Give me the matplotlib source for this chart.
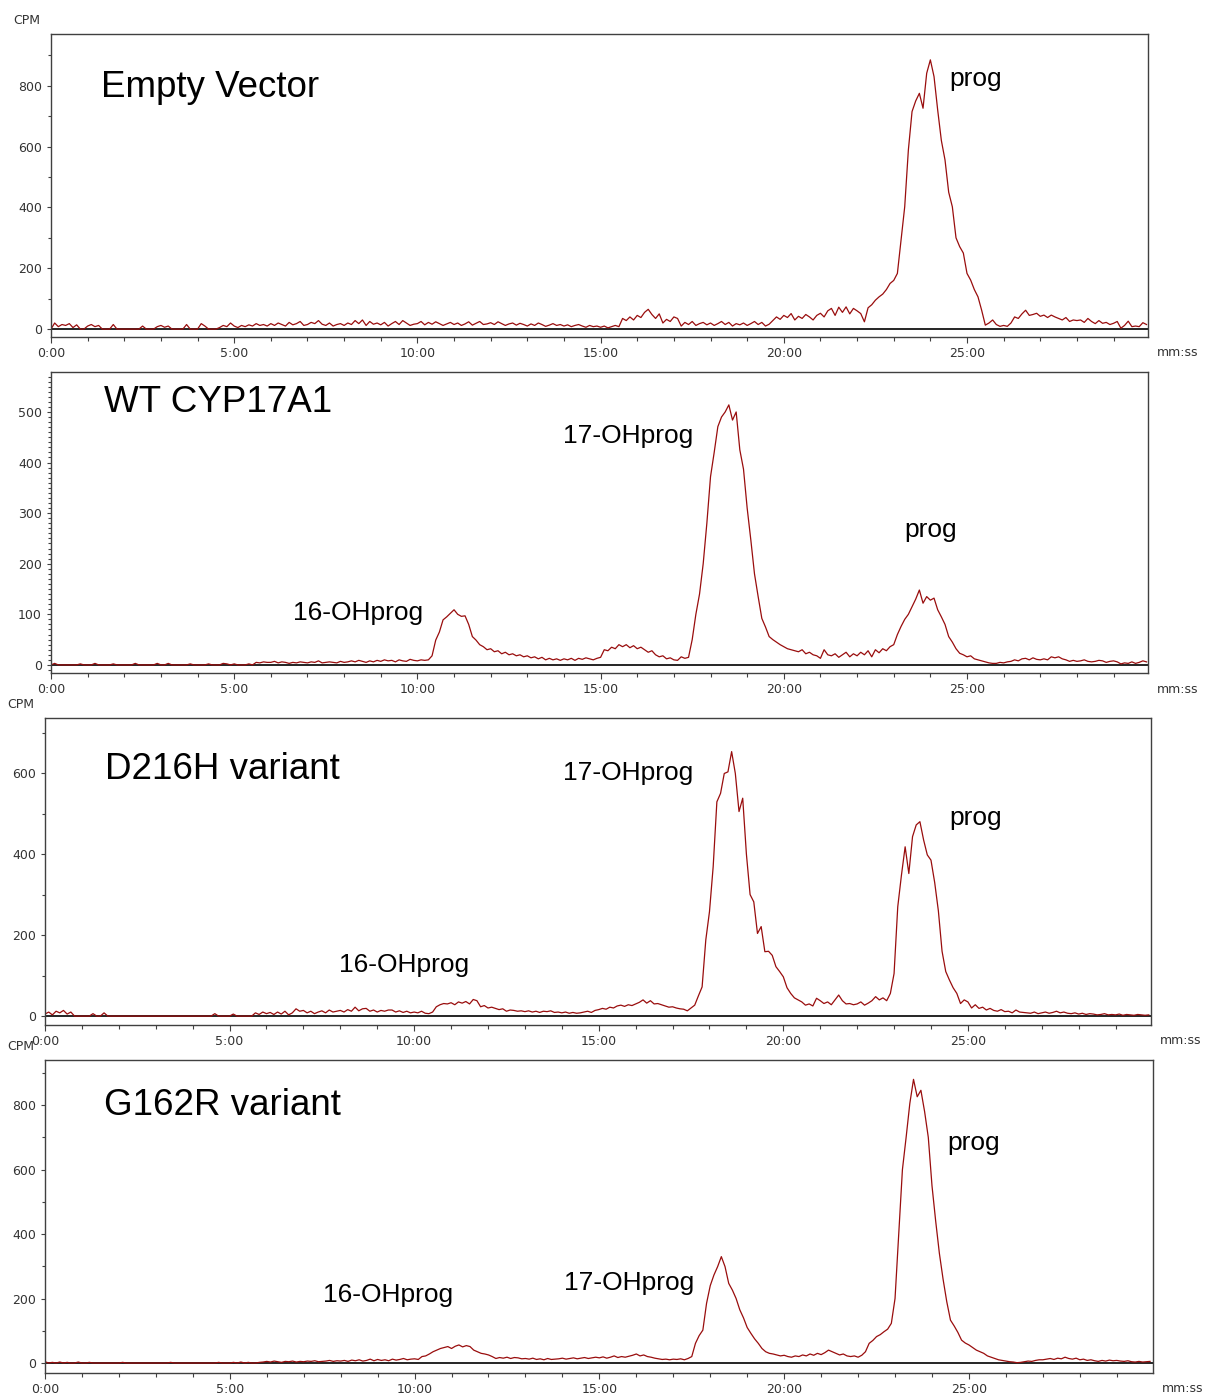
import numpy as np
import matplotlib
matplotlib.use('Agg')
import matplotlib.pyplot as plt
from matplotlib.ticker import MultipleLocator, FuncFormatter

# ========== DANE ==========

# retention time, minutes (one reading every 6 s)
time_min = np.arange(300) / 10

ev_cpm = [
    0, 20, 8, 15, 12, 18, 5, 14, 0, 0,
    10, 15, 8, 12, 0, 0, 0, 15, 0, 0,
    0, 0, 0, 0, 0, 10, 0, 0, 0, 8,
    12, 6, 10, 0, 0, 0, 0, 15, 0, 0,
    0, 18, 10, 0, 0, 0, 5, 12, 8, 20,
    10, 5, 12, 8, 14, 10, 18, 12, 15, 10,
    18, 12, 20, 15, 10, 22, 14, 18, 25, 12,
    15, 22, 18, 28, 16, 12, 20, 10, 15, 18,
    12, 20, 15, 28, 18, 30, 12, 25, 16, 20,
    14, 22, 10, 18, 25, 15, 28, 20, 12, 16,
    18, 25, 14, 22, 16, 24, 18, 12, 17, 22,
    15, 20, 12, 17, 24, 13, 19, 25, 15, 17,
    21, 15, 24, 18, 12, 17, 20, 13, 19, 15,
    10, 17, 12, 20, 15, 9, 13, 18, 12, 15,
    10, 14, 8, 12, 15, 10, 6, 12, 8, 10,
    6, 10, 4, 8, 12, 8, 35, 28, 40, 30,
    45, 38, 55, 65, 48, 35, 50, 20, 32, 25,
    40, 35, 10, 22, 15, 25, 12, 18, 22, 14,
    20, 12, 18, 25, 15, 22, 10, 18, 14, 20,
    12, 18, 25, 15, 22, 10, 16, 28, 40, 32,
    45, 38, 51, 30, 42, 35, 48, 40, 30, 45,
    52, 40, 60, 68, 45, 72, 55, 73, 50, 68,
    60, 51, 24, 70, 80, 95, 106, 115, 130, 150,
    160, 183, 293, 402, 589, 715, 750, 775, 726, 841,
    885, 830, 720, 620, 556, 450, 402, 300, 271, 250,
    183, 161, 130, 106, 62, 13, 20, 30, 15, 9,
    12, 9, 20, 40, 35, 50, 62, 45, 48, 52,
    42, 46, 38, 46, 40, 35, 30, 38, 25, 30,
    28, 30, 22, 35, 25, 18, 28, 19, 22, 15,
    19, 25, 3, 12, 26, 8, 10, 8, 21, 15,
]

wt_cpm = [
    0, 3, 0, 0, 0, 0, 0, 0, 2, 0,
    0, 0, 3, 0, 0, 0, 0, 2, 0, 0,
    0, 0, 0, 3, 0, 0, 0, 0, 0, 3,
    0, 0, 3, 0, 0, 0, 0, 0, 2, 0,
    0, 0, 0, 2, 0, 0, 0, 3, 2, 0,
    2, 0, 0, 0, 2, 0, 5, 4, 6, 5,
    5, 7, 4, 6, 5, 3, 5, 4, 6, 5,
    4, 6, 5, 8, 4, 5, 6, 5, 4, 7,
    5, 6, 8, 6, 9, 7, 5, 8, 6, 9,
    7, 10, 8, 9, 6, 10, 8, 7, 11, 9,
    8, 10, 9, 10, 18, 49, 65, 89, 95, 102,
    109, 100, 96, 97, 80, 56, 49, 40, 36, 30,
    32, 26, 28, 22, 25, 20, 22, 18, 20, 16,
    18, 14, 16, 12, 15, 10, 13, 10, 12, 9,
    12, 10, 13, 9, 13, 11, 14, 12, 10, 13,
    15, 30, 28, 35, 32, 40, 36, 40, 34, 38,
    32, 35, 30, 25, 28, 20, 16, 18, 12, 14,
    10, 9, 16, 13, 15, 50, 100, 140, 200, 280,
    372, 420, 471, 490, 500, 514, 484, 500, 425, 387,
    310, 247, 180, 135, 92, 75, 56, 50, 45, 40,
    36, 32, 30, 28, 26, 30, 22, 25, 20, 18,
    13, 30, 20, 18, 22, 15, 20, 25, 16, 22,
    18, 25, 20, 28, 16, 30, 24, 32, 28, 36,
    40, 60, 76, 90, 100, 115, 130, 148, 122, 135,
    128, 132, 109, 95, 80, 56, 45, 32, 23, 20,
    16, 18, 12, 10, 8, 6, 4, 3, 3, 5,
    4, 6, 7, 10, 8, 12, 13, 10, 14, 11,
    10, 12, 10, 16, 14, 16, 12, 10, 7, 9,
    7, 8, 10, 7, 6, 7, 9, 8, 5, 7,
    8, 6, 2, 4, 3, 6, 3, 5, 8, 6,
]

d216h_cpm = [
    5, 10, 3, 12, 8, 14, 5, 10, 0, 0,
    0, 0, 0, 6, 0, 0, 8, 0, 0, 0,
    0, 0, 0, 0, 0, 0, 0, 0, 0, 0,
    0, 0, 0, 0, 0, 0, 0, 0, 0, 0,
    0, 0, 0, 0, 0, 0, 6, 0, 0, 0,
    0, 5, 0, 0, 0, 0, 0, 8, 4, 10,
    6, 9, 4, 10, 5, 12, 3, 8, 18, 12,
    14, 8, 12, 6, 10, 13, 8, 15, 10, 12,
    14, 10, 16, 12, 22, 13, 18, 19, 12, 15,
    10, 14, 12, 15, 15, 10, 13, 9, 12, 8,
    10, 8, 12, 7, 6, 10, 23, 28, 31, 30,
    33, 28, 35, 32, 36, 30, 41, 38, 23, 26,
    20, 22, 19, 16, 18, 12, 15, 14, 12, 13,
    11, 13, 10, 12, 9, 12, 11, 13, 9, 10,
    8, 10, 7, 9, 7, 8, 10, 12, 9, 14,
    16, 19, 17, 22, 20, 25, 27, 24, 28, 26,
    30, 34, 40, 32, 38, 30, 31, 28, 25, 22,
    23, 20, 18, 17, 13, 20, 27, 50, 72, 188,
    258, 369, 529, 550, 599, 603, 653, 599, 505, 538,
    400, 300, 282, 204, 221, 159, 160, 150, 122, 110,
    97, 70, 56, 45, 40, 35, 27, 30, 25, 44,
    38, 31, 35, 28, 40, 52, 38, 30, 31, 28,
    30, 35, 27, 32, 38, 48, 40, 45, 38, 56,
    105, 270, 348, 418, 352, 443, 472, 480, 435, 398,
    385, 330, 260, 160, 110, 89, 70, 56, 31, 40,
    35, 20, 28, 19, 22, 15, 19, 14, 12, 16,
    11, 12, 8, 15, 10, 9, 8, 7, 10, 6,
    8, 10, 7, 9, 12, 8, 10, 7, 6, 8,
    5, 7, 4, 6, 5, 3, 4, 6, 3, 4,
    3, 5, 2, 4, 3, 2, 4, 3, 2, 3,
]

g162r_cpm = [
    4, 0, 2, 0, 3, 0, 2, 0, 0, 3,
    0, 0, 2, 0, 0, 0, 0, 0, 0, 0,
    0, 2, 0, 0, 0, 0, 0, 0, 0, 0,
    0, 0, 0, 0, 2, 0, 0, 0, 0, 0,
    0, 0, 0, 0, 0, 0, 0, 2, 0, 0,
    0, 2, 0, 3, 0, 2, 0, 0, 2, 3,
    5, 3, 6, 4, 2, 5, 4, 6, 3, 5,
    4, 6, 5, 7, 4, 5, 6, 8, 5, 7,
    6, 8, 5, 9, 7, 10, 6, 8, 12, 7,
    11, 8, 10, 7, 12, 9, 11, 14, 10, 12,
    13, 11, 20, 22, 28, 35, 40, 45, 48, 51,
    45, 52, 56, 50, 54, 51, 40, 35, 30, 28,
    25, 20, 14, 17, 15, 18, 14, 17, 16, 13,
    14, 12, 15, 11, 13, 10, 14, 11, 12, 13,
    15, 12, 14, 16, 13, 15, 17, 14, 16, 18,
    16, 19, 15, 18, 22, 17, 20, 18, 21, 24,
    28, 22, 25, 20, 18, 15, 13, 11, 12, 10,
    12, 11, 13, 10, 14, 20, 61, 85, 102, 185,
    240, 273, 299, 330, 299, 247, 226, 200, 165, 140,
    110, 92, 75, 61, 45, 35, 30, 28, 25, 22,
    24, 20, 18, 22, 20, 25, 22, 28, 24, 30,
    26, 32, 40, 35, 30, 25, 28, 22, 20, 22,
    18, 24, 35, 61, 70, 82, 88, 97, 105, 123,
    200, 400, 600, 700, 805, 880, 826, 846, 780, 700,
    550, 440, 340, 260, 190, 133, 115, 95, 71, 62,
    56, 48, 40, 35, 30, 22, 18, 14, 10, 8,
    6, 4, 3, 1, 2, 4, 6, 5, 8, 10,
    10, 12, 14, 11, 15, 13, 18, 14, 12, 15,
    10, 12, 8, 10, 7, 5, 8, 6, 9, 7,
    8, 6, 5, 7, 4, 3, 5, 3, 4, 5,
]

panel_titles = ['Empty Vector', 'WT CYP17A1', 'D216H variant', 'G162R variant']
panel_series = [ev_cpm, wt_cpm, d216h_cpm, g162r_cpm]
peak_names = ['16-OHprog', '17-OHprog', 'prog']

# ========== WYKRES ==========

W, H = 1207, 1395
TRACE = '#990d0d'
FRAME = '#404040'
LABEL = '#333333'


def px(x, y):
    return x / W, 1 - y / H


def add_panel(fig, box, xmax, ylim, ymajor, yminor):
    left, top, right, bottom = box
    ax = fig.add_axes([left / W, 1 - bottom / H, (right - left) / W, (bottom - top) / H])
    ax.set_xlim(0, xmax)
    ax.set_ylim(*ylim)
    ax.axhline(0, color='black', lw=1.2, zorder=1)
    for s in ax.spines.values():
        s.set_color(FRAME)
        s.set_linewidth(1.0)
    ax.xaxis.set_major_locator(MultipleLocator(5))
    ax.xaxis.set_minor_locator(MultipleLocator(1))
    ax.xaxis.set_major_formatter(FuncFormatter(lambda v, p: f'{int(round(v))}:00'))
    ax.yaxis.set_major_locator(MultipleLocator(ymajor))
    ax.yaxis.set_minor_locator(MultipleLocator(yminor))
    ax.tick_params(axis='x', which='major', length=4.3, width=0.8, color=FRAME,
                   labelsize=9, labelcolor=LABEL, pad=3)
    ax.tick_params(axis='x', which='minor', length=2.9, width=0.8, color=FRAME)
    ax.tick_params(axis='y', which='major', length=3.1, width=0.8, color=FRAME,
                   labelsize=9, labelcolor=LABEL, pad=3.5)
    ax.tick_params(axis='y', which='minor', length=2.0, width=0.8, color=FRAME)
    return ax


fig = plt.figure(figsize=(W / 100, H / 100), dpi=100)

boxes = [(51, 34, 1148, 337), (51, 372, 1148, 673), (45, 718, 1151, 1025), (45, 1060, 1153, 1373)]
xmaxes = [29.94, 29.94, 29.96, 29.98]
ylims = [(-26, 970), (-16, 579), (-22, 736), (-31, 940)]
ymajors = [200, 100, 200, 200]
yminors = [100, 10, 100, 100]

for i in range(4):
    ax = add_panel(fig, boxes[i], xmaxes[i], ylims[i], ymajors[i], yminors[i])
    ax.plot(time_min, panel_series[i], color=TRACE, lw=0.9, zorder=2)

# tytuły paneli
title_pos = [(101, 97), (104, 412), (105, 779), (104, 1115)]
for name, (x, y) in zip(panel_titles, title_pos):
    fig.text(*px(x, y), name, fontsize=26.5, family='Liberation Sans', va='baseline', ha='left')

# nazwy pików
peak_pos = [
    (2, 949, 86),
    (0, 293, 620), (1, 563, 443), (2, 904, 537),
    (0, 339, 972), (1, 563, 780), (2, 949, 825),
    (0, 323, 1302), (1, 564, 1290), (2, 947, 1150),
]
for k, x, y in peak_pos:
    fig.text(*px(x, y), peak_names[k], fontsize=19, family='Liberation Sans', va='baseline', ha='left')

# opisy osi
for x, y in [(13, 21), (7, 705), (7, 1046)]:
    fig.text(*px(x, y), 'CPM', fontsize=9, color=LABEL, va='center', ha='left')
for x, y in [(1157, 353), (1157, 689), (1160, 1040), (1162, 1388)]:
    fig.text(*px(x, y), 'mm:ss', fontsize=9, color=LABEL, va='center', ha='left')

fig.savefig('out.png', dpi=100, facecolor='white')
